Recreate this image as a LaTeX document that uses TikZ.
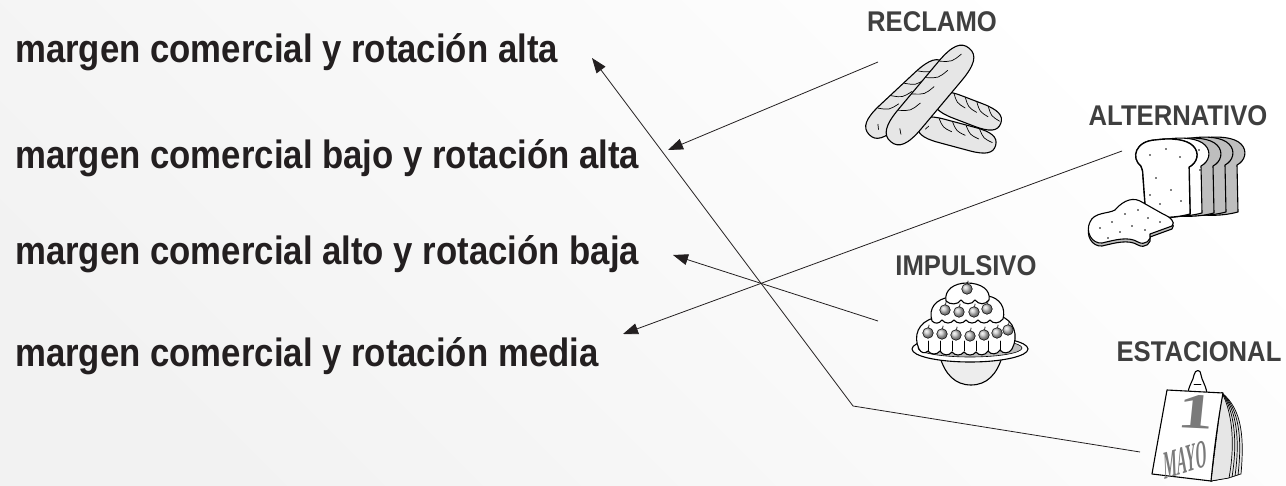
\documentclass[tikz,border=0pt]{standalone}
\usepackage{fontspec}
\setmainfont{Liberation Sans}
\newfontfamily\rowfont{Liberation Sans}[FakeStretch=0.88]
\newfontfamily\catfont{Liberation Sans}[FakeStretch=0.9]
\newfontfamily\calfont{Liberation Serif}
\usetikzlibrary{arrows.meta,calc}
\definecolor{ink}{HTML}{231F20}
\definecolor{labelgray}{HTML}{3F3F3F}
\definecolor{crumb}{HTML}{E6E6E6}
\definecolor{dish}{HTML}{EDEDED}
\definecolor{crust}{HTML}{BEBEBE}
\definecolor{digit}{HTML}{7A7A7A}

% a baguette lying along the local x axis: half length #1, half width #2
\newcommand\breadstick[2]{%
  \path[icon] (-#1,0) .. controls (-#1,{-0.7*#2}) and ({-#1+0.6*#2},-#2) .. ({-#1+2*#2},-#2)
    -- ({#1-2*#2},-#2) .. controls ({#1-0.6*#2},-#2) and (#1,{-0.7*#2}) .. (#1,0)
    .. controls (#1,{0.7*#2}) and ({#1-0.6*#2},#2) .. ({#1-2*#2},#2)
    -- ({-#1+2*#2},#2) .. controls ({-#1+0.6*#2},#2) and (-#1,{0.7*#2}) .. cycle;
  \foreach \s in {-0.45,-0.1,0.25,0.6}
    \draw[detail] ({\s*#1-0.3*#2},{-0.95*#2}) .. controls ({\s*#1+0.2*#2},{-0.3*#2}) .. ({\s*#1+1.0*#2},{-0.15*#2});
  \draw[detail] ({-0.8*#1},{0.2*#2}) -- ({-0.74*#1},{-0.1*#2});
}
% local frame for a baguette: centre #1, then the axis and its normal as unit canvas vectors
\tikzset{stickframe/.style n args={5}{shift={#1}, x={(#2pt,#3pt)}, y={(#4pt,#5pt)}}}

% one slice of a loaf of sliced bread
\newcommand\loafslice[1]{%
  \path[icon,#1] (1141,166) .. controls (1131,158) and (1135,141) .. (1156,140)
    .. controls (1170,138) and (1186,139) .. (1193,146)
    .. controls (1200,153) and (1197,163) .. (1189,167)
    -- (1190,214) .. controls (1175,218) and (1160,218) .. (1146,216)
    -- (1143,175) .. controls (1143,171) and (1142,168) .. cycle;
}

\begin{document}
\begin{tikzpicture}[x=1pt,y=-1pt,
  rowtext/.style={font={\rowfont\bfseries\fontsize{39.5}{40}\selectfont}, text=ink, inner sep=0pt, anchor=base west},
  cattext/.style={font={\catfont\bfseries\fontsize{28.5}{29}\selectfont}, text=labelgray, inner sep=0pt},
  link/.style={draw=ink, line width=0.8pt, -{Triangle[length=15pt,width=11pt]}},
  icon/.style={draw=black, line width=1.1pt, fill=crumb, line join=round},
  detail/.style={draw=black, line width=0.7pt, line cap=round},
  cherry/.style={ball color=gray!45, draw=black, line width=0.5pt},
]
% page with a faint grey wash fading out of the lower left corner
\useasboundingbox (0,0) rectangle (1286,486);
\fill[white] (0,0) rectangle (1286,486);
\shade[top color=white, middle color=white, bottom color=black!5, shading angle=-45] (0,0) rectangle (1286,486);

% the four kinds of margin and turnover
\node[rowtext] (r1) at (15,63) {margen comercial y rotación alta};
\node[rowtext] (r2) at (15,169) {margen comercial bajo y rotación alta};
\node[rowtext] (r3) at (15,265) {margen comercial alto y rotación baja};
\node[rowtext] (r4) at (15,367) {margen comercial y rotación media};

% category names
\node[cattext] (reclamo) at (932,22) {RECLAMO};
\node[cattext] (alternativo) at (1178,116) {ALTERNATIVO};
\node[cattext] (impulsivo) at (966,266) {IMPULSIVO};
\node[cattext] (estacional) at (1199,352) {ESTACIONAL};

% baguettes: two lying behind, two crossing in front
\begin{scope}[stickframe={(968,111)}{0.934}{-0.358}{-0.358}{-0.934}] \breadstick{35}{12} \end{scope}
\begin{scope}[stickframe={(957,135)}{0.966}{-0.259}{-0.259}{-0.966}] \breadstick{40}{12} \end{scope}
\begin{scope}[stickframe={(907,99)}{0.731}{0.682}{0.682}{-0.731}] \breadstick{52}{14} \end{scope}
\begin{scope}[stickframe={(930,95)}{0.643}{0.766}{0.766}{-0.643}] \breadstick{61}{15} \end{scope}

% sliced loaf: back slices with the crust showing, then the cut faces
\loafslice{fill=crust, shift={(48,-2)}}
\loafslice{fill=crust, shift={(36,-2)}}
\loafslice{fill=crust, shift={(24,-1)}}
\loafslice{fill=white, shift={(12,-1)}}
\loafslice{fill=white, line width=1.7pt}
\loafslice{fill=white}
\foreach \p in {(1150,155),(1166,149),(1180,157),(1156,178),(1171,190),(1160,204),(1181,201),(1150,195),(1199,150),(1200,170)}
  \fill \p circle (0.8);
% slice lying in front
\path[icon, fill=crust] (1090,225) .. controls (1085,235) and (1092,247) .. (1102,246)
  .. controls (1115,243) and (1128,239) .. (1138,245) .. controls (1145,249) and (1152,243) .. (1150,237)
  -- (1172,229) .. controls (1176,225) and (1170,220) .. (1163,217) -- (1140,204)
  .. controls (1130,199) and (1120,207) .. (1115,213) .. controls (1108,217) and (1094,215) .. cycle;
\path[icon, fill=white] (1090,222) .. controls (1085,232) and (1092,244) .. (1102,243)
  .. controls (1115,240) and (1128,236) .. (1138,242) .. controls (1145,246) and (1152,240) .. (1150,234)
  -- (1172,226) .. controls (1176,222) and (1170,217) .. (1163,214) -- (1140,201)
  .. controls (1130,196) and (1120,204) .. (1115,210) .. controls (1108,214) and (1094,212) .. cycle;
\foreach \p in {(1100,228),(1112,222),(1125,214),(1138,210),(1148,218),(1160,222),(1120,232),(1132,226),(1108,238),(1145,230)}
  \fill \p circle (0.8);

% jelly cake on a dish
\path[icon, fill=dish] (940,357) .. controls (945,374) and (955,385) .. (971,385) .. controls (987,385) and (997,374) .. (1002,357) -- cycle;
\path[icon, fill=white] (970,349) ellipse [x radius=58, y radius=13];
\path[draw=black, line width=0.6pt, fill=crust] (970,348) ellipse [x radius=52, y radius=9];
\path[icon, fill=white] (919,349) .. controls (913,336) and (918,322) .. (934,318) -- (1000,316)
  .. controls (1014,320) and (1019,336) .. (1012,349)
  .. controls (1009,354) and (1003,354) .. (1000,350) .. controls (997,355) and (991,355) .. (988,351)
  .. controls (985,356) and (979,356) .. (976,352) .. controls (973,356) and (967,356) .. (964,352)
  .. controls (961,356) and (955,356) .. (952,352) .. controls (949,356) and (943,356) .. (940,351)
  .. controls (937,355) and (931,355) .. (928,351) .. controls (925,354) and (921,353) .. cycle;
\foreach \gx in {928,940,952,964,976,988,1000}
  \draw[detail] (\gx,341) -- (\gx,351);
\path[icon, fill=white] (932,321) .. controls (928,308) and (936,299) .. (950,297) -- (988,296)
  .. controls (1000,298) and (1006,308) .. (1003,319)
  .. controls (999,324) and (993,324) .. (990,320) .. controls (987,324) and (981,324) .. (978,320)
  .. controls (975,324) and (969,324) .. (966,320) .. controls (963,324) and (957,324) .. (954,320)
  .. controls (951,324) and (945,324) .. (942,320) .. controls (939,324) and (935,324) .. cycle;
\path[icon, fill=white] (946,301) .. controls (944,290) and (954,283) .. (967,283)
  .. controls (981,283) and (991,290) .. (989,300)
  .. controls (985,305) and (979,305) .. (975,300) .. controls (972,305) and (964,305) .. (961,300)
  .. controls (958,305) and (950,305) .. cycle;
\foreach \cx/\cy in {967/289, 945/310, 959/312, 974/312, 987/309,
                     928/333, 942/334, 956/335, 970/336, 984/335, 997/333, 1008/330}
{
  \draw[detail] (\cx,\cy) -- ({\cx+1},{\cy-8});
  \shade[cherry] (\cx,\cy) circle (5.3);
}

% tear-off calendar
\foreach \k in {5,4,3,2,1}
  \path[draw=black, line width=0.7pt, fill=crumb]
    (1222,393) .. controls ({1228+3*\k},410) and ({1234+2*\k},440) .. ({1226+3*\k},{479-\k})
    -- (1211,481) -- cycle;
\path[icon, fill=white] (1188,392) .. controls (1190,383) and (1193,381) .. (1194,375)
  .. controls (1195,369) and (1201,369) .. (1201,375) .. controls (1202,381) and (1205,383) .. (1207,393) -- cycle;
\path[icon, fill=white] (1167,390) -- (1223,393) .. controls (1218,420) and (1214,450) .. (1211,481)
  -- (1152,474) .. controls (1157,445) and (1162,418) .. cycle;
\draw[detail] (1194,384) -- (1201,384);
\node[font={\calfont\bfseries\fontsize{50}{50}\selectfont}, text=digit, inner sep=0pt, xscale=1.45, rotate=-4] (uno) at (1196,412) {1};
\node[font={\calfont\bfseries\fontsize{40}{40}\selectfont}, text=digit, inner sep=0pt, xscale=0.35, rotate=6] (mayo) at (1185,460) {MAYO};

% connectors
\coordinate (fromReclamo) at (878,62);
\coordinate (fromAlternativo) at (1122,151);
\coordinate (fromImpulsivo) at (878,321);
\coordinate (fromEstacional) at (1140,452);
\coordinate (bendEstacional) at (853,406);
\coordinate (toAlta) at (592,58);
\coordinate (toBajo) at (668,150);
\coordinate (toAlto) at (673,255);
\coordinate (toMedia) at (623,334);
\draw[link] (fromReclamo) -- (toBajo);
\draw[link] (fromAlternativo) -- (toMedia);
\draw[link] (fromImpulsivo) -- (toAlto);
\draw[link] (fromEstacional) -- (bendEstacional) -- (toAlta);
\end{tikzpicture}
\end{document}
